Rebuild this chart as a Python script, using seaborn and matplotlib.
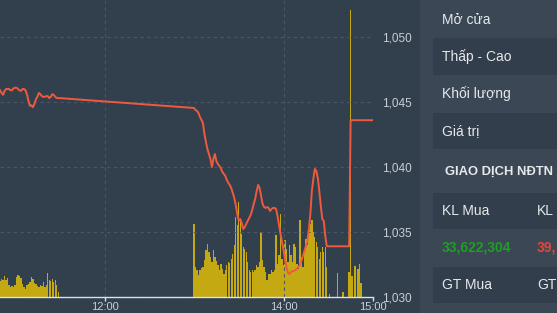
import matplotlib
matplotlib.use("Agg")
import matplotlib.pyplot as plt
import seaborn as sns
import pandas as pd
from matplotlib.patches import Rectangle
from matplotlib.ticker import FuncFormatter

# ---------------- data ----------------
morning_start = "10:50"
price_morning = [1045.9, 1045.7, 1045.55, 1045.85, 1046.0, 1046.0, 1046.0, 1045.9, 1045.9, 1046.05,
                 1046.1, 1046.1, 1046.0, 1045.9, 1045.85, 1046.0, 1046.0, 1045.9, 1045.6, 1045.1,
                 1044.7, 1044.75, 1044.6, 1044.85, 1045.2, 1045.4, 1045.7, 1045.6, 1045.45, 1045.4,
                 1045.4, 1045.45, 1045.45, 1045.3, 1045.4, 1045.6, 1045.55, 1045.4, 1045.3, 1045.3,
                 1045.3]
afternoon_start = "13:00"
price_afternoon = [1044.54, 1044.38, 1044.31, 1044.15, 1043.85, 1043.62, 1043.38, 1042.54, 1041.92, 1041.38,
                   1041.0, 1040.62, 1040.0, 1040.62, 1041.0, 1040.46, 1040.23, 1040.08, 1039.92, 1039.62,
                   1039.46, 1039.31, 1039.0, 1038.77, 1038.62, 1038.38, 1038.0, 1037.62, 1037.08, 1036.38,
                   1035.85, 1036.0, 1035.69, 1035.23, 1035.38, 1035.62, 1035.85, 1036.08, 1036.31, 1036.69,
                   1037.15, 1037.54, 1038.15, 1038.62, 1038.38, 1037.77, 1037.15, 1036.92, 1036.85, 1036.92,
                   1036.85, 1036.62, 1036.77, 1036.85, 1036.85, 1036.77, 1036.23, 1035.54, 1034.85, 1034.23,
                   1033.62, 1032.92, 1032.31, 1031.85, 1031.77, 1031.92, 1032.0, 1032.0, 1032.08, 1032.15,
                   1032.31, 1032.46, 1032.77, 1033.15, 1033.54, 1033.92, 1034.31, 1035.23, 1036.38, 1038.15,
                   1039.08, 1039.85, 1039.69, 1039.15, 1038.15, 1037.0, 1036.0, 1035.85, 1034.69, 1033.92]
close_times = ["14:30", "14:44", "14:45", "15:00"]
close_prices = [1033.9, 1033.9, 1043.6, 1043.6]

vol_morning = [160, 180, 170, 210, 170, 190, 120, 100, 110, 100,
               120, 200, 220, 210, 190, 130, 100, 80, 120, 130,
               150, 200, 180, 140, 130, 110, 100, 120, 110, 150,
               100, 120, 240, 170, 160, 180, 150, 170, 120, 50]
vol_afternoon = [730, 300, 270, 220, 270, 290, 300, 370, 470, 530,
                 450, 400, 350, 470, 400, 360, 320, 270, 330, 280,
                 230, 270, 320, 350, 340, 380, 430, 520, 800, 720,
                 950, 780, 630, 500, 480, 450, 350, 270, 250, 270,
                 250, 270, 320, 300, 350, 650, 370, 300, 250, 170,
                 230, 230, 270, 250, 270, 620, 330, 420, 830, 380,
                 320, 570, 480, 350, 520, 420, 350, 530, 500, 330,
                 280, 770, 400, 300, 450, 580, 520, 670, 730, 770,
                 650, 600, 550, 500, 380, 450, 500, 450, 500, 300]
close_vol_start = "14:30"
vol_close = [0, 30, 0, 0, 0, 0, 240, 0, 0, 0, 50, 0, 0, 0, 250, 2870, 210, 0, 310, 0, 280, 330, 140]

price_ticks = [1030, 1035, 1040, 1045, 1050]
time_ticks = ["12:00", "14:00", "15:00"]

panel_labels = ["Mở cửa", "Thấp - Cao", "Khối lượng", "Giá trị"]
section_title = "GIAO DỊCH NĐTN"
col1_header, col2_header = "KL Mua", "KL"
col1_value, col2_value = "33,622,304", "39,"
col1_footer, col2_footer = "GT Mua", "GT"


def to_min(s):
    h, m = s.split(":")
    return int(h) * 60 + int(m)


t_price = ([to_min(morning_start) + i for i in range(len(price_morning))]
           + [to_min(afternoon_start) + i for i in range(len(price_afternoon))]
           + [to_min(t) for t in close_times])
df_price = pd.DataFrame({"t": t_price, "price": price_morning + price_afternoon + close_prices})

t_vol = ([to_min(morning_start) + i for i in range(len(vol_morning))]
         + [to_min(afternoon_start) + i for i in range(len(vol_afternoon))]
         + [to_min(close_vol_start) + i for i in range(len(vol_close))])
df_vol = pd.DataFrame({"t": t_vol, "vol": vol_morning + vol_afternoon + vol_close})

# ---------------- style ----------------
BG = "#323f4d"
PANEL = "#3b4755"
BAND = "#323e4b"
GRID = "#4a5666"
LINE = "#ef5a3f"
BAR = "#c4a912"
TXT = "#e6e9ec"
TICK = "#c9ced4"
AXIS = "#dde2e8"
FONT = ["Liberation Sans", "DejaVu Sans"]

plt.rcParams["font.family"] = FONT

W, H = 557, 313
fig = plt.figure(figsize=(W / 100, H / 100), dpi=100, facecolor=BG)
ax = fig.add_axes([0, 16 / H, 373 / W, 297 / H])
axv = ax.twinx()
ax.set_zorder(2)
axv.set_zorder(1)
ax.patch.set_visible(False)
axv.patch.set_visible(False)

sns.barplot(data=df_vol, x="t", y="vol", native_scale=True, color=BAR, saturation=1,
            width=0.9, linewidth=0, errorbar=None, ax=axv)
sns.lineplot(data=df_price, x="t", y="price", color=LINE, linewidth=1.4, ax=ax)

ax.set_xlim(to_min("15:00") - 373 * 120 / 179, to_min("15:00"))
ax.set_ylim(1030, 1030 + 297 / 13)
axv.set_ylim(0, max(vol_close) * 297 / 287)

for a in (ax, axv):
    a.set_xlabel("")
    a.set_ylabel("")
    for s in a.spines.values():
        s.set_visible(False)
ax.spines["bottom"].set_visible(True)
ax.spines["bottom"].set_color(AXIS)
ax.spines["bottom"].set_linewidth(1.0)

axv.set_yticks([])
axv.tick_params(axis="both", length=0)

ax.yaxis.tick_right()
ax.set_yticks(price_ticks)
ax.yaxis.set_major_formatter(FuncFormatter(lambda v, p: f"{v:,.0f}"))
ax.set_xticks([to_min(t) for t in time_ticks], time_ticks)
ax.tick_params(axis="x", direction="out", length=3, width=1, color=AXIS,
               labelsize=8.0, labelcolor=TICK, pad=0.3)
ax.tick_params(axis="y", length=0, labelsize=8.5, labelcolor=TICK, pad=6.5,
               right=True, left=False, labelright=True, labelleft=False)
ax.grid(True, color=GRID, linestyle=(0, (3, 3)), linewidth=0.8)

# ---------------- right info panel ----------------
def fx(px):
    return px / W


def fy(py):
    return 1 - py / H


fig.add_artist(Rectangle((fx(420), 0), fx(W - 420), 1, transform=fig.transFigure,
                         facecolor=PANEL, edgecolor="none", zorder=-1))
for top, bot in [(38, 75), (113, 149), (193, 229), (267, 303)]:
    fig.add_artist(Rectangle((fx(433), fy(bot)), fx(W - 433), (bot - top) / H,
                             transform=fig.transFigure, facecolor=BAND,
                             edgecolor="none", zorder=-0.5))

for label, py in zip(panel_labels, [20, 57, 94, 131]):
    fig.text(fx(442), fy(py), label, color=TXT, fontsize=10, va="center", ha="left")

fig.text(fx(445), fy(172), section_title, color=TXT, fontsize=9.4, fontweight="bold",
         va="center", ha="left")
fig.text(fx(442), fy(211), col1_header, color=TXT, fontsize=10, va="center")
fig.text(fx(537), fy(211), col2_header, color=TXT, fontsize=10, va="center")
fig.text(fx(442), fy(248), col1_value, color="#1f9d24", fontsize=10, fontweight="bold", va="center")
fig.text(fx(537), fy(248), col2_value, color="#e0473b", fontsize=10, fontweight="bold", va="center")
fig.text(fx(442), fy(285), col1_footer, color=TXT, fontsize=10, va="center")
fig.text(fx(537), fy(285), col2_footer, color=TXT, fontsize=10, va="center")

fig.savefig("out.png", dpi=100, facecolor=BG)
